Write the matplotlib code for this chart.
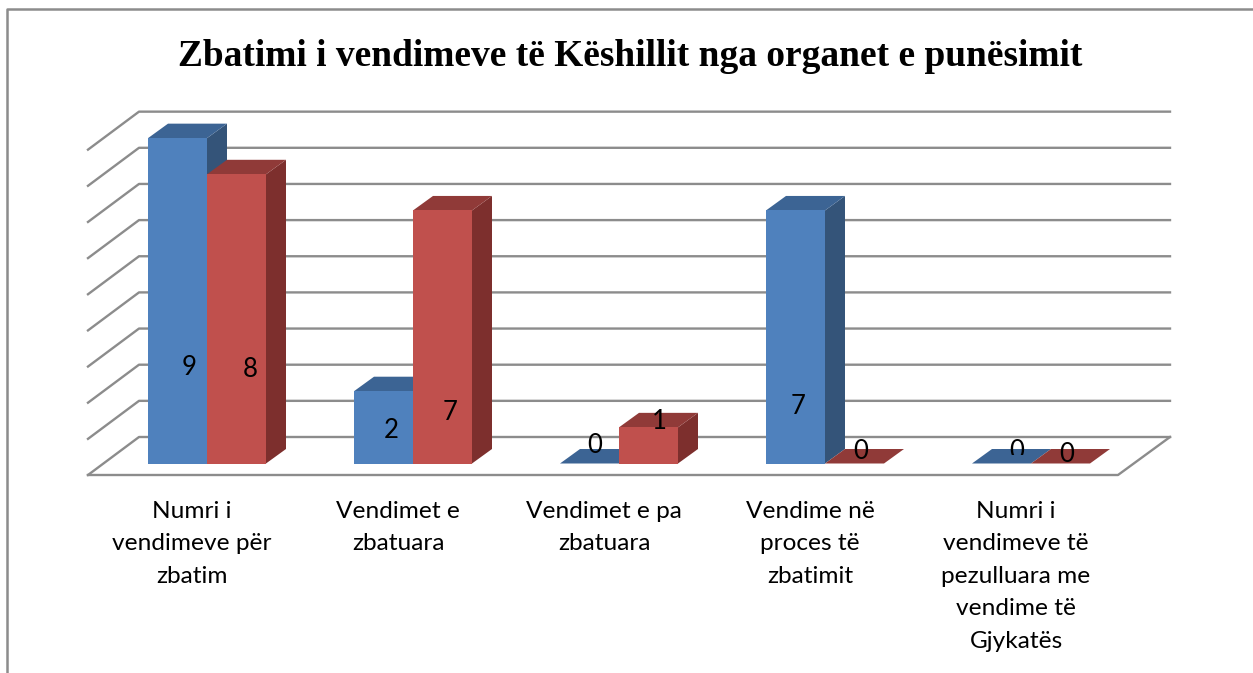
import matplotlib
matplotlib.use('Agg')
import matplotlib.pyplot as plt
from matplotlib.patches import Polygon, Rectangle

"""the data"""
categories = ['Numri i\nvendimeve për\nzbatim', 'Vendimet e\nzbatuara', 'Vendimet e pa\nzbatuara',
              'Vendime në\nproces të\nzbatimit', 'Numri i\nvendimeve të\npezulluara me\nvendime të\nGjykatës']
blue_values = [9, 2, 0, 7, 0]
red_values = [8, 7, 1, 0, 0]
grid_values = list(range(0, 10))

# where Excel left the value labels, as pixel offset from the bar's front base centre
blue_label_shift = [(12, -96), (8, -33), (5, -18), (3, -57), (15, -12)]
red_label_shift = [(14, -94), (8, -51), (11, -42), (6, -12), (6, -9)]

"""pixel scale of the picture"""
w, h = 1253, 673
base_px = 463.5  # front base of the bars
first_px = 207  # blue/red border of the first group
group_px = 206  # one category
value_px = 36.15  # one unit on the value axis

x_unit = 1 / group_px
y_unit = 1 / value_px
bar_w = 59 * x_unit
depth_x = 20 * x_unit  # bar depth
depth_y = 14.5 * y_unit

blue = ('#4f81bd', '#3c6494', '#345479')
red = ('#c0504d', '#903a38', '#7d2f2d')
grey = '#8c8c8c'

fig = plt.figure(figsize=(w / 100, h / 100), dpi=100)
ax = fig.add_axes([0, 0, 1, 1])
ax.set_xlim(-first_px * x_unit, (w - first_px) * x_unit)
ax.set_ylim((base_px - h) * y_unit, base_px * y_unit)
ax.axis('off')


def px(x, y):
    return (x - first_px) * x_unit, (base_px - y) * y_unit


# border of the chart area, open on the right
ax.plot(*zip(px(7, h), px(7, 9), px(w, 9)), color=grey, lw=1.8, zorder=1)

# floor and gridlines
floor_y = px(0, 437)[1]
x_back_l, x_back_r = px(139, 0)[0], px(1170, 0)[0]
x_front_l, x_front_r = px(88, 0)[0], px(1118, 0)[0]
floor_depth = px(0, 475)[1] - floor_y
for v in grid_values:
    y = floor_y + v
    ax.plot([x_front_l, x_back_l, x_back_r], [y + floor_depth, y, y], color=grey, lw=1.7, zorder=1)
ax.plot([x_back_r, x_front_r, x_front_l], [floor_y, floor_y + floor_depth, floor_y + floor_depth],
        color=grey, lw=1.7, zorder=1)


def draw_bar(x, value, colors, z):
    front, top, side = colors
    ax.add_patch(Polygon([(x + bar_w, 0), (x + bar_w + depth_x, depth_y),
                          (x + bar_w + depth_x, value + depth_y), (x + bar_w, value)],
                         fc=side, ec='none', zorder=z))
    ax.add_patch(Polygon([(x, value), (x + bar_w, value),
                          (x + bar_w + depth_x, value + depth_y), (x + depth_x, value + depth_y)],
                         fc=top, ec='none', zorder=z))
    if value > 0:
        ax.add_patch(Polygon([(x, 0), (x + bar_w, 0), (x + bar_w, value), (x, value)],
                             fc=front, ec='none', zorder=z))


for i in range(len(categories)):
    draw_bar(i - bar_w, blue_values[i], blue, 2 + i)
    draw_bar(i, red_values[i], red, 2.5 + i)

# value labels
label_font = 'Lato'
for i in range(len(categories)):
    for x0, value, shift in [(i - bar_w / 2, blue_values[i], blue_label_shift[i]),
                             (i + bar_w / 2, red_values[i], red_label_shift[i])]:
        t = ax.text(x0 + shift[0] * x_unit, -shift[1] * y_unit, str(value), ha='center', va='center',
                    fontsize=18.5, family=label_font, color='black', zorder=20)
        # the last blue zero is cut off at the bottom in the original
        if i == len(categories) - 1 and x0 < i:
            t.set_clip_on(True)
            t.set_clip_path(Rectangle(px(990, 455), 60 * x_unit, 30 * y_unit, transform=ax.transData))

# category labels
for i, label in enumerate(categories):
    ax.text(i - 15 * x_unit, px(0, 501)[1], label, ha='center', va='top', fontsize=17.6,
            family=label_font, color='black', linespacing=1.67, zorder=20)

ax.text(*px(630, 56), 'Zbatimi i vendimeve të Këshillit nga organet e punësimit', ha='center', va='center',
        fontsize=26.9, family='Liberation Serif', weight='bold', color='black')

fig.savefig('out.png', dpi=100)
